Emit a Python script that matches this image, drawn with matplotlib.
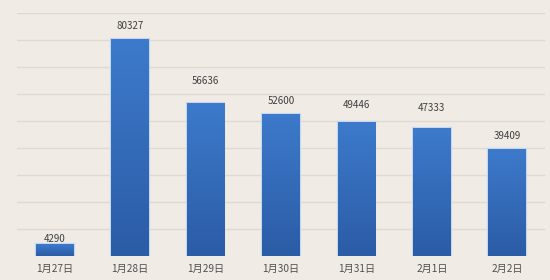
import matplotlib
matplotlib.use("Agg")
import matplotlib.pyplot as plt
import numpy as np
from matplotlib.colors import LinearSegmentedColormap

plt.rcParams['font.family'] = ['Noto Sans CJK SC', 'DejaVu Sans']

categories = ["1月27日", "1月28日", "1月29日", "1月30日", "1月31日", "2月1日", "2月2日"]
values = [4290, 80327, 56636, 52600, 49446, 47333, 39409]
label_offsets_px = [5.5, 13.5, 22, 12.5, 17.5, 20.5, 13]

bg = "#f0ebe5"
fig = plt.figure(figsize=(5.5, 2.8), dpi=100, facecolor=bg)
ax = fig.add_axes([0.031, 0.086, 0.96, 0.868], facecolor=bg)

x = np.arange(len(categories))
width = 0.5
bars = ax.bar(x, values, width=width, color="#3a72c0", edgecolor="#c4d9ef",
              linewidth=1.6, zorder=3)

cmap = LinearSegmentedColormap.from_list("g", ["#2b5ca6", "#3d7acb"])
grad = np.linspace(0, 1, 100).reshape(-1, 1)
for b in bars:
    x0, y0 = b.get_x(), b.get_y()
    w, h = b.get_width(), b.get_height()
    im = ax.imshow(grad, cmap=cmap, origin="lower", aspect="auto",
                   extent=[x0, x0 + w, y0, y0 + h], zorder=4)
    im.set_clip_path(b)

for xi, v, off in zip(x, values, label_offsets_px):
    ax.annotate(str(v), (xi, v), xytext=(0, off * 0.72), textcoords="offset points",
                ha="center", va="center", fontsize=7, color="#404040", zorder=5)

ax.set_xlim(-0.5, len(categories) - 0.5)
ax.set_ylim(0, 90000)
ax.set_yticks(np.arange(10000, 90001, 10000))
ax.yaxis.grid(True, color="#e0d9d1", linewidth=1.0, zorder=0)
ax.tick_params(axis="y", left=False, labelleft=False)
ax.set_xticks(x)
ax.set_xticklabels(categories, fontsize=7.3, color="#505050")
ax.tick_params(axis="x", length=0, pad=6)
for s in ax.spines.values():
    s.set_visible(False)
ax.set_xlim(-0.5, len(categories) - 0.5)

fig.savefig("out.png", dpi=100, facecolor=bg)
